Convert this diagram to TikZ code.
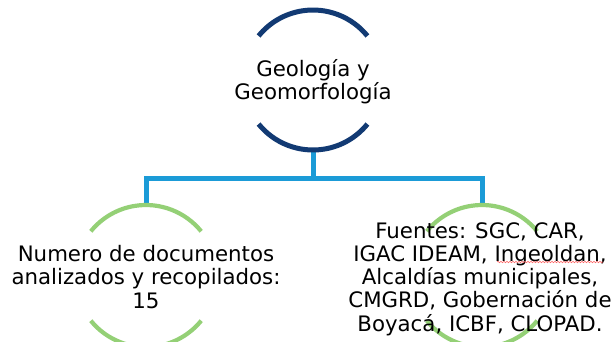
\documentclass[tikz,border=0pt]{standalone}
\usepackage{fontspec}
\setmainfont{DejaVu Sans}
\usetikzlibrary{decorations.pathmorphing}
\definecolor{darkblue}{RGB}{18,58,115}
\definecolor{linkblue}{RGB}{27,155,215}
\definecolor{leafgreen}{RGB}{148,208,118}
\tikzset{
  holder/.style={circle,draw=none,minimum size=#1,inner sep=0pt,outer sep=0pt},
  toparc/.style={draw=darkblue,line width=5pt},
  leafarc/.style={draw=leafgreen,line width=4.2pt},
  link/.style={draw=linkblue,line width=5pt},
  label/.style={align=center,font=\fontsize{21.3}{23.2}\selectfont,text=black,inner sep=0pt}
}
\begin{document}
\begin{tikzpicture}[x=1pt,y=-1pt]
\useasboundingbox (0,0) rectangle (613,341);
\clip (0,0) rectangle (613,341);
\fill[white] (0,0) rectangle (613,341);
% circle holders
\node[holder=140pt] (top) at (313,80) {};
\node[holder=142pt] (left) at (146,276) {};
\node[holder=142pt] (right) at (482,276) {};
\coordinate (bus) at (313,178);
% connectors
\draw[link] (top.south) -- (bus);
\draw[link] (left.north) |- (bus) -| (right.north);
% arcs
\draw[toparc] (top.39) arc[start angle=39,end angle=141,radius=70pt];
\draw[toparc] (top.219) arc[start angle=219,end angle=321,radius=70pt];
\draw[leafarc] (left.39) arc[start angle=39,end angle=141,radius=71pt];
\draw[leafarc] (left.219) arc[start angle=219,end angle=321,radius=71pt];
\draw[leafarc] (right.39) arc[start angle=39,end angle=141,radius=71pt];
\draw[leafarc] (right.219) arc[start angle=219,end angle=321,radius=71pt];
% texts
\node[label] (ttop) at (313,82) {Geología y\\Geomorfología};
\node[label] (tleft) at (146,277) {Numero de documentos\\analizados y recopilados:\\15};
\node[label] (tright) at (480,279) {Fuentes: SGC, CAR,\\IGAC IDEAM, Ingeoldan,\\Alcaldías municipales,\\CMGRD, Gobernación de\\Boyacá, ICBF, CLOPAD.};
\coordinate (wavea) at (497,262);
\coordinate (waveb) at (603,262);
\draw[red!60,line width=0.6pt,decorate,decoration={snake,amplitude=0.7pt,segment length=3pt}] (wavea) -- (waveb);
\end{tikzpicture}
\end{document}
